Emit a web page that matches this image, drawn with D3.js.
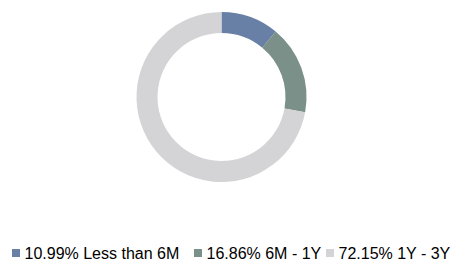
<!DOCTYPE html>
<html><head><meta charset="utf-8">
<script src="https://cdn.jsdelivr.net/npm/d3@7"></script>
<style>html,body{margin:0;padding:0;background:#fff;}svg{display:block;}</style>
</head><body>
<script>
const categories = ["Less than 6M", "6M - 1Y", "1Y - 3Y"];
const values = [10.99, 16.86, 72.15];
const labels = ["10.99%", "16.86%", "72.15%"];
const colors = ["#6880a5", "#7a9088", "#d4d4d6"];

const W = 451, H = 261;
const svg = d3.select("body").append("svg").attr("width", W).attr("height", H);

const cx = 221.5, cy = 97, rOuter = 85, rInner = 64;
const pie = d3.pie().sort(null).value(d => d)(values);
const arc = d3.arc().innerRadius(rInner).outerRadius(rOuter);
const color = d3.scaleOrdinal().domain(categories).range(colors);

svg.append("g").attr("transform", `translate(${cx},${cy})`)
  .selectAll("path").data(pie).enter().append("path")
  .attr("d", arc)
  .attr("fill", (d, i) => color(categories[i]));

const legendX = [12, 194, 326];
const lg = svg.append("g");
categories.forEach((c, i) => {
  const g = lg.append("g").attr("transform", `translate(${legendX[i]},0)`);
  g.append("rect").attr("x", 0).attr("y", 249).attr("width", 8).attr("height", 8).attr("fill", color(c));
  g.append("text").attr("x", 12.5).attr("y", 259)
    .attr("font-family", "Liberation Sans, Arial, sans-serif")
    .attr("font-size", "16px").attr("fill", "#000")
    .text(`${labels[i]} ${c}`);
});
</script>
</body></html>
